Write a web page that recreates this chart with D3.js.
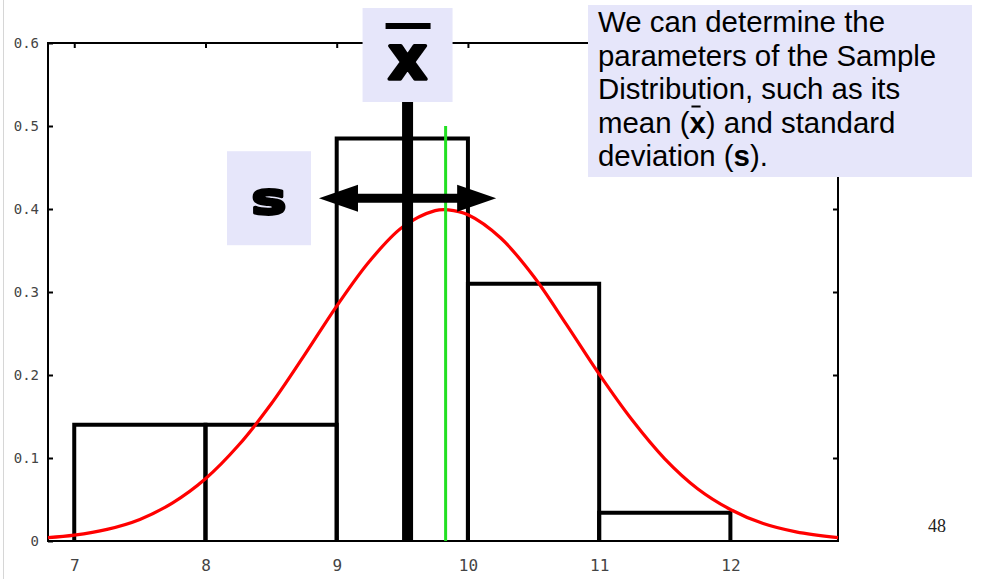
<!DOCTYPE html>
<html>
<head>
<meta charset="utf-8">
<script src="https://cdn.jsdelivr.net/npm/d3@7"></script>
<style>
  html, body { margin: 0; padding: 0; background: #fff; }
  svg { display: block; }
</style>
</head>
<body>
<svg id="chart" width="981" height="579"></svg>
<script>
// Histogram of the sample (relative frequency per unit bin)
const binEdges = [7, 8, 9, 10, 11, 12];
const binHeights = [0.14, 0.14, 0.485, 0.31, 0.034];

// Fitted normal density, sampled along x
const curveX = [6.8, 7.0, 7.25, 7.5, 7.75, 8.0, 8.25, 8.5, 8.75, 9.0, 9.25, 9.5, 9.75, 9.85,
                10.0, 10.25, 10.5, 10.75, 11.0, 11.25, 11.5, 11.75, 12.0, 12.25, 12.5, 12.82];
const curveY = [0.004, 0.007, 0.014, 0.026, 0.046, 0.075, 0.115, 0.165, 0.223, 0.283, 0.337, 0.378, 0.398, 0.399,
                0.393, 0.365, 0.319, 0.261, 0.201, 0.146, 0.099, 0.063, 0.038, 0.021, 0.011, 0.004];

// Summary parameters
const sampleMean = 9.54;     // x-bar
const sampleSd = 0.675;      // s
const arrowLevel = 0.413;    // height of the s arrow
const populationMean = 9.83; // centre of the fitted curve
const populationLineTop = 0.5;

// Axis ticks
const xTicks = [7, 8, 9, 10, 11, 12];
const yTicks = [0, 0.1, 0.2, 0.3, 0.4, 0.5, 0.6];

const noteLines = [
  [{t: "We can determine the"}],
  [{t: "parameters of the Sample"}],
  [{t: "Distribution, such as its"}],
  [{t: "mean ("}, {t: "x", bold: true, bar: true}, {t: ") and standard"}],
  [{t: "deviation ("}, {t: "s", bold: true}, {t: ")."}]
];
const pageNumber = "48";

const svg = d3.select("#chart");
const lavender = "#e6e6fa";

const x = d3.scaleLinear().domain([6.8, 12.82]).range([48, 838]);
const y = d3.scaleLinear().domain([0, 0.6]).range([541, 43]);

// thin page-edge rule
svg.append("line").attr("x1", 3.5).attr("x2", 3.5).attr("y1", 0).attr("y2", 579)
  .attr("stroke", "#d6d6d6").attr("stroke-width", 1);

// axes (ticks point inwards, labels only on left and bottom)
function styleAxis(g, fontSize) {
  g.select(".domain").remove();
  g.selectAll(".tick line").attr("stroke", "#000").attr("stroke-width", 2);
  g.selectAll(".tick text").attr("fill", "#444")
    .style("font-family", "'DejaVu Sans Mono', monospace").style("font-size", fontSize + "px");
}
svg.append("g").attr("transform", `translate(${x.range()[0]},0)`)
  .call(d3.axisLeft(y).tickValues(yTicks).tickSizeInner(-5).tickSizeOuter(0).tickPadding(9)
    .tickFormat(d => d === 0 ? "0" : d3.format(".1f")(d)))
  .call(g => styleAxis(g, 14));
svg.append("g").attr("transform", `translate(0,${y.range()[0]})`)
  .call(d3.axisBottom(x).tickValues(xTicks).tickSizeInner(-5).tickSizeOuter(0).tickPadding(19)
    .tickFormat(d3.format("d")))
  .call(g => styleAxis(g, 16));
svg.append("g").attr("transform", `translate(${x.range()[1]},0)`)
  .call(d3.axisRight(y).tickValues(yTicks.slice(1, -1)).tickSizeInner(-5).tickSizeOuter(0).tickFormat(""))
  .call(g => styleAxis(g, 14));
svg.append("g").attr("transform", `translate(0,${y.range()[1]})`)
  .call(d3.axisTop(x).tickValues(xTicks).tickSizeInner(-5).tickSizeOuter(0).tickFormat(""))
  .call(g => styleAxis(g, 14));

// plot frame
svg.append("rect")
  .attr("x", x.range()[0]).attr("y", y.range()[1])
  .attr("width", x.range()[1] - x.range()[0]).attr("height", y.range()[0] - y.range()[1])
  .attr("fill", "none").attr("stroke", "#000").attr("stroke-width", 2);

// histogram bars (open at the baseline)
const bins = binHeights.map((h, i) => ({x0: binEdges[i], x1: binEdges[i + 1], h}));
svg.append("g").selectAll("path").data(bins).join("path")
  .attr("d", d => `M${x(d.x0)},${y(0)}V${y(d.h)}H${x(d.x1)}V${y(0)}`)
  .attr("fill", "none").attr("stroke", "#000").attr("stroke-width", 4)
  .attr("stroke-linejoin", "miter");

// fitted normal curve
const curvePts = curveX.map((v, i) => [v, curveY[i]]);
svg.append("path").datum(curvePts)
  .attr("d", d3.line().x(d => x(d[0])).y(d => y(d[1])).curve(d3.curveCatmullRom))
  .attr("fill", "none").attr("stroke", "#ff0000").attr("stroke-width", 3.2);

// population mean line
svg.append("line")
  .attr("x1", x(populationMean)).attr("x2", x(populationMean))
  .attr("y1", y(populationLineTop)).attr("y2", y(0))
  .attr("stroke", "#22e022").attr("stroke-width", 3);

// sample mean line
svg.append("line")
  .attr("x1", x(sampleMean)).attr("x2", x(sampleMean))
  .attr("y1", y(0.6)).attr("y2", y(0))
  .attr("stroke", "#000").attr("stroke-width", 11);

// s arrow: double-headed, spanning mean ± s
const ax0 = x(sampleMean - sampleSd), ax1 = x(sampleMean + sampleSd), ay = y(arrowLevel);
const headLen = 39, headHalf = 13.5;
svg.append("line").attr("x1", ax0 + headLen - 2).attr("x2", ax1 - headLen + 2)
  .attr("y1", ay).attr("y2", ay).attr("stroke", "#000").attr("stroke-width", 9);
svg.append("path")
  .attr("d", `M${ax0},${ay}L${ax0 + headLen},${ay - headHalf}L${ax0 + headLen},${ay + headHalf}Z` +
             `M${ax1},${ay}L${ax1 - headLen},${ay - headHalf}L${ax1 - headLen},${ay + headHalf}Z`)
  .attr("fill", "#000");

// x-bar label box above the mean line
const mx = x(sampleMean);
svg.append("rect").attr("x", mx - 45).attr("y", 8).attr("width", 90).attr("height", 94).attr("fill", lavender);
svg.append("rect").attr("x", mx - 22).attr("y", 23).attr("width", 45).attr("height", 6).attr("fill", "#000");
svg.append("text").attr("x", mx).attr("y", 79).attr("text-anchor", "middle")
  .style("font-family", "'DejaVu Sans', sans-serif").style("font-weight", "bold").style("font-size", "60px")
  .attr("stroke", "#000").attr("stroke-width", 3.5).attr("stroke-linejoin", "round").attr("fill", "#000")
  .text("x");

// s label box left of the arrow
const sBoxRight = ax0 - 8;
svg.append("rect").attr("x", sBoxRight - 84).attr("y", ay - 47).attr("width", 84).attr("height", 94).attr("fill", lavender);
svg.append("text")
  .attr("transform", `translate(${sBoxRight - 42},${ay + 16}) scale(1.3,1)`)
  .attr("text-anchor", "middle")
  .style("font-family", "'DejaVu Sans', sans-serif").style("font-weight", "bold").style("font-size", "45px")
  .attr("stroke", "#000").attr("stroke-width", 3).attr("stroke-linejoin", "round").attr("fill", "#000")
  .text("s");

// explanatory note
svg.append("rect").attr("x", 588).attr("y", 5).attr("width", 384).attr("height", 172).attr("fill", lavender);
const note = svg.append("g")
  .style("font-family", "'Liberation Sans', Arial, sans-serif").style("font-size", "29.4px").attr("fill", "#000");
noteLines.forEach((parts, i) => {
  const base = 32 + i * 33.5;
  const t = note.append("text").attr("x", 598).attr("y", base);
  parts.forEach(p => {
    t.append("tspan").style("font-weight", p.bold ? "bold" : "normal").text(p.t);
  });
  // overline on the bold x
  let idx = 0;
  parts.forEach(p => {
    if (p.bar) {
      const s = t.node().getStartPositionOfChar(idx);
      const e = t.node().getEndPositionOfChar(idx + p.t.length - 1);
      const w = e.x - s.x;
      note.append("line").attr("x1", s.x + w * 0.12).attr("x2", s.x + w * 0.68)
        .attr("y1", base - 26).attr("y2", base - 26).attr("stroke", "#000").attr("stroke-width", 2);
    }
    idx += p.t.length;
  });
});

// page number
svg.append("text").attr("x", 928).attr("y", 532)
  .style("font-family", "'Liberation Serif', 'Times New Roman', serif").style("font-size", "18px")
  .attr("fill", "#222").text(pageNumber);
</script>
</body>
</html>
